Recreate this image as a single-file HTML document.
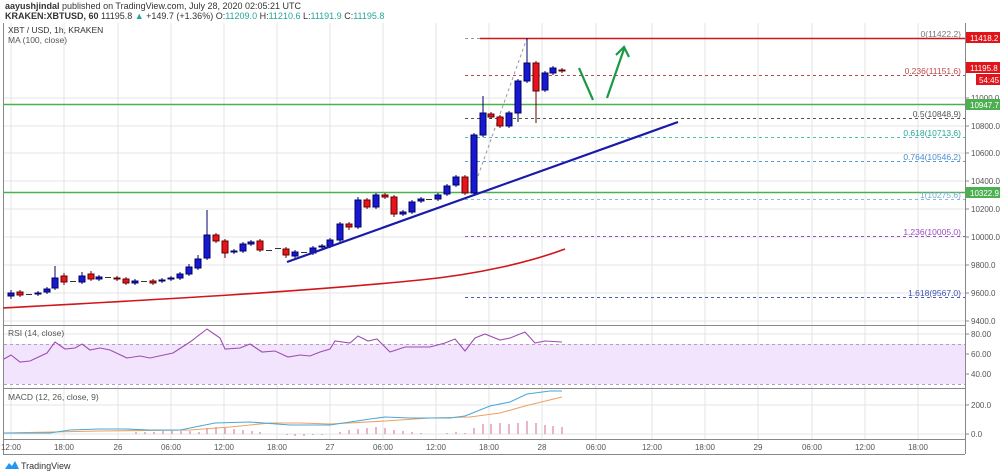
<!DOCTYPE html>
<html><head><meta charset="utf-8"><style>
html,body{margin:0;padding:0;background:#fff;width:1000px;height:474px;overflow:hidden;font-family:"Liberation Sans",sans-serif}
svg{display:block}
text{font-family:"Liberation Sans",sans-serif}
</style></head><body>
<svg width="1000" height="474" viewBox="0 0 1000 474" xmlns="http://www.w3.org/2000/svg">
<rect width="1000" height="474" fill="#fff"/>
<text x="5" y="9" font-size="9" fill="#333"><tspan font-weight="bold">aayushjindal</tspan> published on TradingView.com, July 28, 2020 02:05:21 UTC</text>
<text x="5" y="19" font-size="9" fill="#333"><tspan font-weight="bold">KRAKEN:XBTUSD, 60</tspan> 11195.8 <tspan fill="#26a69a">▲</tspan> +149.7 (+1.36%) O:<tspan fill="#26a69a">11209.0</tspan> H:<tspan fill="#26a69a">11210.6</tspan> L:<tspan fill="#26a69a">11191.9</tspan> C:<tspan fill="#26a69a">11195.8</tspan></text>
<!-- grid -->
<g stroke="#e4e4e4" stroke-width="1">
<path d="M11 23V439M64 23V439M118 23V439M171 23V439M224 23V439M277 23V439M330 23V439M383 23V439M436 23V439M489 23V439M542 23V439M596 23V439M652 23V439M705 23V439M758 23V439M812 23V439M865 23V439M918 23V439"/>
<path d="M3 98H965M3 126H965M3 153H965M3 181H965M3 209H965M3 237H965M3 265H965M3 293H965M3 321H965"/>
<path d="M3 334H965M3 354H965M3 374H965M3 405H965M3 434H965"/>
</g>
<!-- frame -->
<g stroke="#888" fill="none" stroke-width="1">
<path d="M3.5 23V454M965.5 23V454M3 325.5H965M3 388.5H965M3 439.5H965M3 454.5H965"/>
</g>
<!-- RSI band -->
<rect x="4" y="344" width="961" height="40" fill="#f3e4fd"/>
<path d="M4 344.5H965M4 384.5H965" stroke="#b89bc0" stroke-dasharray="3,3"/>
<!-- fib levels -->
<path d="M465 38.5H480" stroke="#999" stroke-dasharray="3,3"/>
<path d="M480 38.5H965" stroke="#d0161b" stroke-width="1.6"/>
<path d="M465 75.5H965" stroke="#c04848" stroke-dasharray="3,3"/>
<path d="M3 104.5H965" stroke="#4caf50" stroke-width="1.5"/>
<path d="M465 118.5H965" stroke="#555" stroke-dasharray="3,3"/>
<path d="M465 137.5H965" stroke="#4dc2b0" stroke-dasharray="3,3"/>
<path d="M465 161.5H965" stroke="#5b9ed6" stroke-dasharray="3,3"/>
<path d="M3 192.5H965" stroke="#4caf50" stroke-width="1.5"/>
<path d="M465 199.5H965" stroke="#8ab7e0" stroke-dasharray="3,3"/>
<path d="M465 236.5H965" stroke="#9c4dc4" stroke-dasharray="3,3"/>
<path d="M465 297.5H965" stroke="#4c5bc0" stroke-dasharray="3,3"/>
<path d="M472 193L527 38" stroke="#999" stroke-dasharray="3,3"/>
<g font-size="8.5" text-anchor="end">
<text x="961" y="37" fill="#777">0(11422.2)</text>
<text x="961" y="74" fill="#c04848">0.236(11151.6)</text>
<text x="961" y="117" fill="#555">0.5(10848.9)</text>
<text x="961" y="136" fill="#26a69a">0.618(10713.6)</text>
<text x="961" y="160" fill="#4a8fcc">0.764(10546.2)</text>
<text x="961" y="198" fill="#7aa9d6">1(10275.6)</text>
<text x="961" y="235" fill="#9c4dc4">1.236(10005.0)</text>
<text x="961" y="296" fill="#3f51b5">1.618(9567.0)</text>
</g>
<!-- MA -->
<path d="M3 308 C150 300 300 292 420 280 C480 274 530 262 565 249" stroke="#d0161b" stroke-width="1.6" fill="none"/>
<!-- candles -->
<g id="c" stroke-width="1">
<g stroke="#000066" fill="#1818d0">
<path d="M11 290V299M38 291V296M47 287V294M55 266V290M82 272V284M99 275V281M135 279V285M162 278V283M171 276V281M180 272V280M189 264V276M198 255V270M207 210V260M234 249V254M243 242V253M251 240V246M295 250V258M313 246V255M322 244V249M330 238V248M340 222V242M358 197V229M376 193V209M403 210V216M412 200V214M421 197V203M438 193V201M447 184V196M456 175V187M474 133V195M483 96V137M509 111V128M518 79V122M527 38V83M545 71V92M553 66V75"/>
<rect x="8" y="293" width="6" height="3"/><rect x="35" y="293" width="6" height="1"/><rect x="44" y="289" width="6" height="3"/><rect x="52" y="278" width="6" height="10"/><rect x="79" y="276" width="6" height="6"/><rect x="96" y="277" width="6" height="2"/><rect x="132" y="281" width="6" height="2"/><rect x="159" y="280" width="6" height="1"/><rect x="168" y="278" width="6" height="1"/><rect x="177" y="274" width="6" height="4"/><rect x="186" y="267" width="6" height="7"/><rect x="195" y="259" width="6" height="9"/><rect x="204" y="235" width="6" height="23"/><rect x="231" y="251" width="6" height="1"/><rect x="240" y="244" width="6" height="7"/><rect x="248" y="242" width="6" height="2"/><rect x="292" y="252" width="6" height="4"/><rect x="310" y="248" width="6" height="5"/><rect x="319" y="246" width="6" height="1"/><rect x="327" y="240" width="6" height="6"/><rect x="337" y="224" width="6" height="16"/><rect x="355" y="200" width="6" height="27"/><rect x="373" y="195" width="6" height="12"/><rect x="400" y="212" width="6" height="2"/><rect x="409" y="202" width="6" height="10"/><rect x="418" y="199" width="6" height="2"/><rect x="435" y="195" width="6" height="4"/><rect x="444" y="186" width="6" height="8"/><rect x="453" y="177" width="6" height="8"/><rect x="471" y="135" width="6" height="58"/><rect x="480" y="113" width="6" height="22"/><rect x="506" y="113" width="6" height="13"/><rect x="515" y="81" width="6" height="32"/><rect x="524" y="63" width="6" height="18"/><rect x="542" y="73" width="6" height="17"/><rect x="550" y="68" width="6" height="5"/>
</g>
<g stroke="#660000" fill="#e8141c">
<path d="M20 290V297M64 273V285M91 271V281M117 276V281M126 277V285M153 279V285M216 233V243M225 239V258M260 239V252M286 247V258M349 222V230M367 198V209M385 193V199M394 195V217M465 175V195M491 112V119M500 115V128M536 61V123M562 68V73"/>
<rect x="17" y="292" width="6" height="3"/><rect x="61" y="276" width="6" height="6"/><rect x="88" y="274" width="6" height="5"/><rect x="114" y="278" width="6" height="1"/><rect x="123" y="279" width="6" height="4"/><rect x="150" y="281" width="6" height="2"/><rect x="213" y="235" width="6" height="6"/><rect x="222" y="241" width="6" height="12"/><rect x="257" y="241" width="6" height="9"/><rect x="283" y="249" width="6" height="6"/><rect x="346" y="224" width="6" height="3"/><rect x="364" y="200" width="6" height="7"/><rect x="382" y="195" width="6" height="2"/><rect x="391" y="197" width="6" height="17"/><rect x="462" y="177" width="6" height="16"/><rect x="488" y="114" width="6" height="3"/><rect x="497" y="117" width="6" height="9"/><rect x="533" y="63" width="6" height="28"/><rect x="559" y="70" width="6" height="1"/>
</g>
<g stroke="#333"><path d="M26 294.5H32M70 281.5H76M105 277.5H111M141 281.5H147M266 250.5H272M275 248.5H281M301 252.5H307M426 199.5H432"/></g>
</g>
<!-- trend line & arrows -->
<path d="M287 262L678 122" stroke="#1a1aa8" stroke-width="2.2"/>
<g stroke="#1a9a45" stroke-width="2.2" fill="none">
<path d="M579 68L593 100"/>
<path d="M607 98L624 49M616 55L624 47L629 57"/>
</g>
<!-- legend -->
<text x="8" y="33" font-size="8.5" fill="#333">XBT / USD, 1h, KRAKEN</text>
<text x="8" y="43" font-size="8.5" fill="#555">MA (100, close)</text>
<!-- RSI -->
<text x="8" y="336" font-size="8.5" fill="#555">RSI (14, close)</text>
<polyline fill="none" stroke="#9c4fb0" stroke-width="1.1" points="4,359 11,355 20,362 30,361 47,353 55,342 65,349 75,348 82,344 90,350 100,348 110,350 127,358 140,356 150,358 173,353 190,342 207,329 220,338 225,349 240,348 250,344 262,352 275,351 288,357 300,355 310,356 320,352 330,349 335,341 350,343 358,336 368,341 377,339 390,352 405,347 430,347 445,343 455,339 465,351 475,338 485,334 500,340 510,338 525,332 535,343 545,341 562,342"/>
<!-- MACD -->
<text x="8" y="400" font-size="8.5" fill="#555">MACD (12, 26, close, 9)</text>
<g stroke="#d46a9a" stroke-width="1">
<path d="M136 434V432M145 434V432M154 434V432M163 434V431M172 434V431M181 434V431M190 434V431M199 434V432M207 434V428M216 434V427M225 434V428M234 434V429M243 434V430M252 434V431M260 434V432M287 434V435M295 434V436M304 434V436M313 434V435M322 434V435M340 434V432M349 434V430M358 434V429M367 434V428M376 434V427M385 434V428M394 434V430M403 434V431M412 434V432M421 434V433M447 434V433M456 434V432M465 434V433M474 434V428M483 434V424M491 434V424M500 434V423M509 434V424M518 434V423M527 434V421M536 434V423M545 434V425M553 434V426M562 434V427"/>
</g>
<polyline fill="none" stroke="#f0a060" stroke-width="1.1" points="4,433 100,431 190,430 230,427 270,423 300,423 330,424 385,421 430,418 470,417 500,413 525,406 562,397"/>
<polyline fill="none" stroke="#4aa8d8" stroke-width="1.1" points="4,433 50,433 70,430 100,429 125,429 150,430 180,430 215,423 250,422 290,425 330,425 370,419 385,417 410,418 450,418 465,416 490,406 510,402 527,394 550,391 562,391"/>
<!-- right axis -->
<g font-size="8" fill="#555">
<path d="M965 98H969M965 126H969M965 153H969M965 181H969M965 209H969M965 237H969M965 265H969M965 293H969M965 321H969M965 334H969M965 354H969M965 374H969M965 405H969M965 434H969" stroke="#888"/>
<text x="971" y="101">11000.0</text><text x="971" y="129">10800.0</text><text x="971" y="156">10600.0</text><text x="971" y="184">10400.0</text><text x="971" y="212">10200.0</text><text x="971" y="240">10000.0</text><text x="971" y="268">9800.0</text><text x="971" y="296">9600.0</text><text x="971" y="324">9400.0</text>
<text x="971" y="337">80.00</text><text x="971" y="357">60.00</text><text x="971" y="377">40.00</text><text x="971" y="408">200.0</text><text x="971" y="437">0.0</text>
</g>
<g font-size="8" fill="#fff">
<rect x="966" y="32" width="34" height="11" fill="#e0141b"/><text x="970" y="41">11418.2</text>
<rect x="966" y="62" width="34" height="11" fill="#e0141b"/><text x="970" y="71">11195.8</text>
<rect x="976" y="74" width="24" height="11" fill="#e0141b"/><text x="979" y="83">54:45</text>
<rect x="966" y="99" width="34" height="11" fill="#4caf50"/><text x="970" y="108">10947.7</text>
<rect x="966" y="187" width="34" height="11" fill="#4caf50"/><text x="970" y="196">10322.9</text>
</g>
<!-- time axis -->
<g font-size="8" fill="#555" text-anchor="middle">
<text x="11" y="450">12:00</text><text x="64" y="450">18:00</text><text x="118" y="450">26</text><text x="171" y="450">06:00</text><text x="224" y="450">12:00</text><text x="277" y="450">18:00</text><text x="330" y="450">27</text><text x="383" y="450">06:00</text><text x="436" y="450">12:00</text><text x="489" y="450">18:00</text><text x="542" y="450">28</text><text x="596" y="450">06:00</text><text x="652" y="450">12:00</text><text x="705" y="450">18:00</text><text x="758" y="450">29</text><text x="812" y="450">06:00</text><text x="865" y="450">12:00</text><text x="918" y="450">18:00</text>
</g>
<!-- footer -->
<path d="M5 469 L9 463 L12 466 L15 461 L19 469 Z" fill="#2196f3"/>
<text x="21" y="469" font-size="9" fill="#333">TradingView</text>
</svg>
</body></html>
